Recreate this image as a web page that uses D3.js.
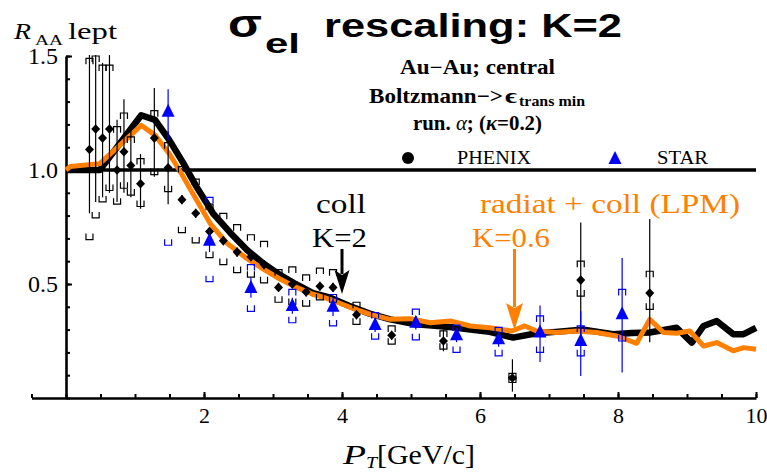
<!DOCTYPE html>
<html>
<head>
<meta charset="utf-8">
<title>sigma_el rescaling: K=2</title>
<script src="https://d3js.org/d3.v7.min.js"></script>
<style>
  body { margin: 0; background: #fff; }
  #chart { display: block; }
</style>
</head>
<body>
<svg id="chart" width="767" height="472"></svg>
<script>
// ---- data ----
var xTicks = [2, 4, 6, 8, 10];
var yTicks = [0.5, 1.0, 1.5];

// coll, K=2 (black)
var collPt  = [0, 0.49, 1.09, 1.29, 1.5, 1.70, 1.89, 2.13, 2.38, 2.62, 2.86, 3.10, 3.34, 3.58, 3.83, 4.1, 4.4, 4.7, 5.03, 5.3, 5.6, 5.86, 6.14, 6.48, 6.82, 7.1, 7.5, 7.93, 8.2, 8.46, 8.85, 9.07, 9.24, 9.43, 9.67, 9.82, 10];
var collRaa = [1.0, 1.0, 1.24, 1.22, 1.13, 1.03, 0.927, 0.81, 0.725, 0.65, 0.59, 0.54, 0.498, 0.46, 0.44, 0.405, 0.37, 0.345, 0.325, 0.318, 0.31, 0.30, 0.29, 0.265, 0.284, 0.29, 0.30, 0.28, 0.285, 0.287, 0.308, 0.243, 0.316, 0.338, 0.28, 0.28, 0.308];

// radiat + coll (LPM), K=0.6 (orange)
var radPt  = [0, 0.06, 0.49, 1.09, 1.29, 1.5, 1.68, 1.85, 2.09, 2.33, 2.62, 2.86, 3.10, 3.34, 3.58, 3.85, 4.1, 4.41, 4.70, 4.99, 5.28, 5.57, 5.86, 6.14, 6.46, 6.65, 6.82, 7.11, 7.40, 7.69, 7.98, 8.27, 8.46, 8.66, 8.85, 9.04, 9.24, 9.43, 9.67, 9.82, 10];
var radRaa = [1.0, 1.015, 1.028, 1.196, 1.153, 1.07, 0.98, 0.89, 0.765, 0.68, 0.612, 0.565, 0.522, 0.485, 0.455, 0.43, 0.40, 0.367, 0.345, 0.348, 0.33, 0.338, 0.316, 0.308, 0.294, 0.316, 0.294, 0.287, 0.294, 0.287, 0.272, 0.24, 0.345, 0.287, 0.284, 0.294, 0.228, 0.243, 0.207, 0.221, 0.214];

// PHENIX (black diamonds)
var phenixPt     = [0.34, 0.43, 0.53, 0.63, 0.74, 0.84, 0.94, 1.08, 1.28, 1.48, 1.68, 1.88, 2.08, 2.28, 2.48, 2.68, 2.87, 3.08, 3.28, 3.48, 3.68, 3.87, 4.21, 4.72, 5.47, 6.47, 7.46, 8.46];
var phenixRaa    = [1.09, 1.18, 1.14, 1.18, 1.00, 1.08, 1.02, 0.94, 1.14, 1.01, 0.87, 0.81, 0.73, 0.69, 0.64, 0.62, 0.585, 0.485, 0.50, 0.465, 0.49, 0.485, 0.365, 0.275, 0.25, 0.088, 0.517, 0.46];
var phenixStatLo = [0.81, 0.86, 0.88, 0.90, 0.86, 0.90, 0.88, 0.83, 0.97, 0.85, 0.85, 0.79, 0.71, 0.67, 0.62, 0.60, 0.565, 0.465, 0.48, 0.445, 0.47, 0.465, 0.345, 0.255, 0.205, 0.028, 0.27, 0.245];
var phenixStatHi = [1.60, 1.60, 1.47, 1.60, 1.22, 1.31, 1.20, 1.07, 1.36, 1.17, 0.89, 0.83, 0.75, 0.71, 0.66, 0.64, 0.605, 0.505, 0.52, 0.485, 0.51, 0.505, 0.385, 0.295, 0.30, 0.17, 0.77, 0.785];
var phenixSysLo  = [0.695, 0.79, 0.86, 0.91, 0.85, 0.92, 0.89, 0.84, 0.98, 0.905, 0.725, 0.68, 0.616, 0.585, 0.55, 0.53, 0.505, 0.42, 0.41, 0.403, 0.43, 0.42, 0.323, 0.236, 0.214, 0.068, 0.447, 0.389];
var phenixSysHi  = [1.49, 1.50, 1.46, 1.46, 1.19, 1.25, 1.145, 1.05, 1.26, 1.12, 1.015, 0.96, 0.85, 0.81, 0.76, 0.716, 0.687, 0.563, 0.575, 0.54, 0.57, 0.563, 0.42, 0.316, 0.294, 0.108, 0.60, 0.556];

// STAR (blue triangles)
var starPt     = [1.48, 2.08, 2.68, 3.28, 3.87, 4.48, 5.07, 5.66, 6.27, 6.87, 7.46, 8.06];
var starRaa    = [1.255, 0.69, 0.483, 0.403, 0.40, 0.32, 0.33, 0.275, 0.258, 0.287, 0.25, 0.367];
var starStatLo = [1.13, 0.64, 0.44, 0.37, 0.36, 0.29, 0.30, 0.245, 0.225, 0.158, 0.097, 0.112];
var starStatHi = [1.354, 0.74, 0.53, 0.44, 0.44, 0.35, 0.36, 0.305, 0.29, 0.406, 0.38, 0.614];
var starSysLo  = [0.67, 0.51, 0.38, 0.33, 0.316, 0.258, 0.255, 0.2, 0.185, 0.2, 0.185, 0.25];
var starSysHi  = [1.84, 0.88, 0.585, 0.476, 0.454, 0.375, 0.39, 0.32, 0.31, 0.36, 0.316, 0.476];

// arrows: [pT, tip value]
var collArrow = [4.0, 0.456];
var radArrow  = [6.5, 0.298];

// ---- drawing ----
var serif = '"Liberation Serif", "Times New Roman", serif';
var sans  = '"Liberation Sans", Arial, sans-serif';
var orange = "#ff8000", blue = "#0000ff";

var svg = d3.select("#chart");
var x = d3.scaleLinear().domain([-0.5, 10]).range([31.5, 756]);
var y = d3.scaleLinear().domain([0, 1.5]).range([398, 56]);

function addText(str, px, py, size, width, o) {
	o = o || {};
	var t = svg.append("text")
		.attr("x", px).attr("y", py)
		.attr("font-family", o.family || serif)
		.attr("font-size", size)
		.attr("font-weight", o.weight || "normal")
		.attr("font-style", o.style || "normal")
		.attr("fill", o.fill || "#000")
		.text(str);
	if (width) t.attr("textLength", width).attr("lengthAdjust", "spacingAndGlyphs");
	return t;
}

// x axis
var gx = svg.append("g").attr("transform", "translate(0,398)")
	.call(d3.axisBottom(x).tickValues(d3.range(-0.5, 10.01, 0.5)).tickSize(-4).tickSizeOuter(0).tickFormat(""));
gx.select(".domain").attr("stroke-width", 2.6);
gx.selectAll(".tick line").attr("stroke-width", 2);

var gx2 = svg.append("g").attr("transform", "translate(0,398)")
	.call(d3.axisBottom(x).tickValues(xTicks).tickSize(-6).tickSizeOuter(0).tickFormat(d3.format("d")));
gx2.attr("font-family", serif).attr("font-size", 22);
gx2.select(".domain").remove();
gx2.selectAll(".tick line").attr("stroke-width", 2);
gx2.selectAll("text").attr("y", 25).attr("dy", null);

// y axis
var gy = svg.append("g").attr("transform", "translate(66,0)")
	.call(d3.axisLeft(y).tickValues(d3.range(0, 1.501, 0.1)).tickSize(-4).tickSizeOuter(0).tickFormat(""));
gy.select(".domain").attr("stroke-width", 2.6);
gy.selectAll(".tick line").attr("stroke-width", 2);

var gy2 = svg.append("g").attr("transform", "translate(66,0)")
	.call(d3.axisLeft(y).tickValues(yTicks).tickSize(-6).tickSizeOuter(0).tickPadding(8).tickFormat(d3.format(".1f")));
gy2.attr("font-family", serif).attr("font-size", 24);
gy2.select(".domain").remove();
gy2.selectAll(".tick line").attr("stroke-width", 2);

// clip for data
svg.append("clipPath").attr("id", "plotclip")
	.append("rect").attr("x", 0).attr("y", 55).attr("width", 767).attr("height", 345);

var plot = svg.append("g").attr("clip-path", "url(#plotclip)");

// reference line at 1
plot.append("line")
	.attr("x1", x(0)).attr("x2", x(10))
	.attr("y1", y(1)).attr("y2", y(1))
	.attr("stroke", "#000").attr("stroke-width", 3.6);

var line = d3.line().x(function(d) { return x(d[0]); }).y(function(d) { return y(d[1]); });

plot.append("path")
	.datum(d3.zip(collPt, collRaa))
	.attr("d", line)
	.attr("fill", "none").attr("stroke", "#000")
	.attr("stroke-width", 6.5).attr("stroke-linejoin", "round");

plot.append("path")
	.datum(d3.zip(radPt, radRaa))
	.attr("d", line)
	.attr("fill", "none").attr("stroke", orange)
	.attr("stroke-width", 5).attr("stroke-linejoin", "round");

// brackets
var bw = 3.5, bh = 6;
function bracketTop(px, py) { return "M" + (px - bw) + "," + (py + bh) + "V" + py + "H" + (px + bw) + "V" + (py + bh); }
function bracketBot(px, py) { return "M" + (px - bw) + "," + (py - bh) + "V" + py + "H" + (px + bw) + "V" + (py - bh); }

function drawSet(pt, val, sLo, sHi, yLo, yHi, color, marker) {
	var data = d3.range(pt.length).map(function(i) {
		return { x: pt[i], v: val[i], lo: sLo[i], hi: sHi[i], ylo: yLo[i], yhi: yHi[i] };
	});
	var g = plot.append("g");
	g.selectAll(".err").data(data).join("line")
		.attr("x1", function(d) { return x(d.x); }).attr("x2", function(d) { return x(d.x); })
		.attr("y1", function(d) { return y(d.lo); }).attr("y2", function(d) { return y(d.hi); })
		.attr("stroke", color).attr("stroke-width", 1.2);
	g.selectAll(".btop").data(data).join("path")
		.attr("d", function(d) { return bracketTop(x(d.x), y(d.yhi)); })
		.attr("fill", "none").attr("stroke", color).attr("stroke-width", 1.2);
	g.selectAll(".bbot").data(data).join("path")
		.attr("d", function(d) { return bracketBot(x(d.x), y(d.ylo)); })
		.attr("fill", "none").attr("stroke", color).attr("stroke-width", 1.2);
	g.selectAll(".mk").data(data).join("path")
		.attr("d", marker)
		.attr("transform", function(d) { return "translate(" + x(d.x) + "," + y(d.v) + ")"; })
		.attr("fill", color);
}

var diamond = "M0,-4.8L4.5,0L0,4.8L-4.5,0Z";
var triangle = "M0,-8L6.5,5L-6.5,5Z";

drawSet(phenixPt, phenixRaa, phenixStatLo, phenixStatHi, phenixSysLo, phenixSysHi, "#000", diamond);
drawSet(starPt, starRaa, starStatLo, starStatHi, starSysLo, starSysHi, blue, triangle);

// arrows
function arrow(a, top, headLen, halfW, color) {
	var px = x(a[0]), tip = y(a[1]);
	svg.append("line")
		.attr("x1", px).attr("x2", px).attr("y1", top).attr("y2", tip - headLen + 4)
		.attr("stroke", color).attr("stroke-width", 3);
	svg.append("path")
		.attr("d", "M" + px + "," + tip + "L" + (px - halfW) + "," + (tip - headLen) +
			"L" + px + "," + (tip - headLen + 5) + "L" + (px + halfW) + "," + (tip - headLen) + "Z")
		.attr("fill", color);
}
arrow(collArrow, 249, 24, 7.5, "#000");
arrow(radArrow, 249, 27, 8.5, orange);

// legend
svg.append("circle").attr("cx", 408).attr("cy", 158).attr("r", 6).attr("fill", "#000");
addText("PHENIX", 457, 164, 18, 74);
svg.append("path").attr("d", triangle).attr("transform", "translate(615,159)").attr("fill", blue);
addText("STAR", 657, 164, 18, 51);

// header text
addText("Au\u2212Au; central", 400, 74, 20, 155, { weight: "bold" });
addText("Boltzmann\u2212>", 369, 103, 21, 134, { weight: "bold" });
addText("\u03f5", 505, 103, 21, 12, { weight: "bold" });
addText("trans min", 519, 106, 15, 66, { weight: "bold" });
var run = addText("", 413, 130, 20, null, { weight: "bold" });
run.append("tspan").text("run. ");
run.append("tspan").attr("font-style", "italic").attr("font-weight", "normal").text("\u03b1");
run.append("tspan").text("; (");
run.append("tspan").attr("font-style", "italic").text("\u03ba");
run.append("tspan").text("=0.2)");
run.attr("textLength", 129).attr("lengthAdjust", "spacingAndGlyphs");

// title
addText("\u03c3", 228, 37, 38, 34, { family: sans, weight: "bold" });
addText("el", 265, 53, 28, 35, { family: sans, weight: "bold" });
addText("rescaling: K=2", 324, 37, 34, 298, { family: sans, weight: "bold" });

// y label
addText("R", 14, 39, 24, 17, { style: "italic" });
addText("AA", 35, 45, 15, 28);
addText("lept", 68, 39, 24, 49);

// x label
addText("P", 343, 464, 28, 23, { style: "italic" });
addText("T", 366, 468, 16, 11, { style: "italic" });
addText("[GeV/c]", 377, 464, 28, 98);

// annotations
addText("coll", 316, 213, 28, 50);
addText("K=2", 312, 247, 28, 55);
addText("radiat + coll (LPM)", 480, 213, 27, 260, { fill: orange });
addText("K=0.6", 472, 247, 27, 78, { fill: orange });
</script>
</body>
</html>
